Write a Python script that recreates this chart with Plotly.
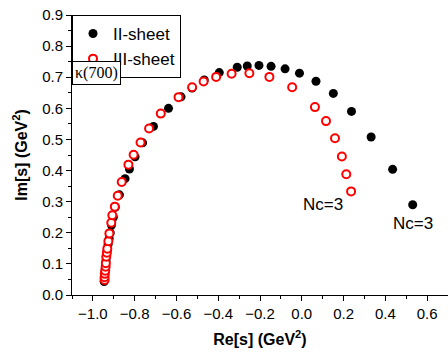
import plotly.graph_objects as go

# II-sheet (black filled)
ii_re = [-0.946, -0.945, -0.944, -0.943, -0.941, -0.939, -0.937, -0.934, -0.931, -0.927,
         -0.922, -0.917, -0.911, -0.902, -0.893, -0.873, -0.846, -0.825, -0.798, -0.762,
         -0.710, -0.638, -0.578, -0.525, -0.467, -0.395, -0.309, -0.261, -0.205, -0.147,
         -0.080, -0.011, 0.068, 0.151, 0.238, 0.332, 0.435, 0.531]
ii_im = [0.043, 0.052, 0.062, 0.072, 0.084, 0.097, 0.111, 0.127, 0.144, 0.163,
         0.182, 0.200, 0.225, 0.250, 0.282, 0.322, 0.374, 0.405, 0.444, 0.489,
         0.542, 0.600, 0.637, 0.665, 0.691, 0.715, 0.732, 0.736, 0.738, 0.735,
         0.727, 0.713, 0.687, 0.648, 0.590, 0.508, 0.404, 0.290]

# III-sheet (red open)
iii_re = [-0.944, -0.944, -0.943, -0.941, -0.939, -0.938, -0.936, -0.933, -0.931, -0.926,
          -0.921, -0.912, -0.907, -0.895, -0.881, -0.862, -0.830, -0.805, -0.772, -0.731,
          -0.675, -0.590, -0.525, -0.470, -0.410, -0.336, -0.251, -0.155, -0.046, 0.063,
          0.116, 0.159, 0.192, 0.213, 0.236]
iii_im = [0.048, 0.057, 0.068, 0.078, 0.091, 0.102, 0.123, 0.136, 0.149, 0.173,
          0.198, 0.232, 0.256, 0.284, 0.319, 0.363, 0.419, 0.451, 0.490, 0.535,
          0.583, 0.636, 0.668, 0.686, 0.701, 0.711, 0.713, 0.701, 0.668, 0.604,
          0.559, 0.504, 0.445, 0.388, 0.333]

x_range = [-1.1, 0.7]
y_range = [0.0, 0.9]

FONT = "Liberation Sans, Arial, sans-serif"

fig = go.Figure()
fig.add_trace(go.Scatter(x=ii_re, y=ii_im, mode="markers", name="II-sheet",
                         marker=dict(symbol="circle", size=9, color="black")))
fig.add_trace(go.Scatter(x=iii_re, y=iii_im, mode="markers", name="III-sheet",
                         marker=dict(symbol="circle", size=8, color="white",
                                     line=dict(color="red", width=2))))

fig.add_annotation(x=iii_re[-1], y=iii_im[-1], text="Nc=3", showarrow=False,
                   xshift=-28, yshift=-13, font=dict(family=FONT, size=17, color="black"))
fig.add_annotation(x=ii_re[-1], y=ii_im[-1], text="Nc=3", showarrow=False,
                   xshift=0, yshift=-19, font=dict(family=FONT, size=17, color="black"))
fig.add_annotation(xref="paper", yref="paper", x=0, y=0.835, xanchor="left", yanchor="top",
                   text="κ(700)", showarrow=False, bordercolor="black", borderwidth=1,
                   borderpad=2, bgcolor="white",
                   font=dict(family="Liberation Serif, Times New Roman, serif", size=16, color="black"))

fig.update_layout(
    width=448, height=358,
    margin=dict(l=72, r=0, t=15, b=63),
    plot_bgcolor="white", paper_bgcolor="white",
    font=dict(family=FONT, size=15, color="black"),
    showlegend=True,
    legend=dict(x=0, y=1, xanchor="left", yanchor="top", bordercolor="black",
                borderwidth=1, bgcolor="white", font=dict(size=17),
                tracegroupgap=0, itemsizing="trace"),
    xaxis=dict(range=x_range, dtick=0.2, tick0=0, tickformat=".1f",
               showgrid=False, zeroline=False, showline=True, linecolor="black", linewidth=1,
               ticks="outside", ticklen=5, tickcolor="black",
               minor=dict(ticks="outside", ticklen=3, dtick=0.1, tickcolor="black"),
               title=dict(text="<b>Re[s] (GeV<sup>2</sup>)</b>", font=dict(size=16), standoff=12)),
    yaxis=dict(range=y_range, dtick=0.1, tick0=0, tickformat=".1f",
               showgrid=False, zeroline=False, showline=True, linecolor="black", linewidth=1,
               ticks="outside", ticklen=5, tickcolor="black",
               minor=dict(ticks="outside", ticklen=3, dtick=0.05, tickcolor="black"),
               title=dict(text="<b>Im[s] (GeV<sup>2</sup>)</b>", font=dict(size=16), standoff=10)),
)

fig.write_html("out.html")
